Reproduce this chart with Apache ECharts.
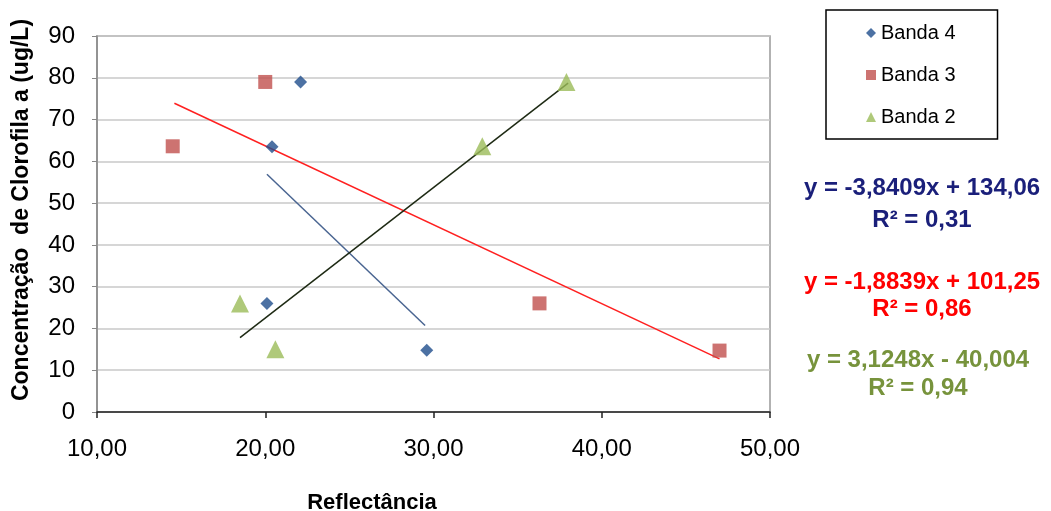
<!DOCTYPE html>
<html><head><meta charset="utf-8">
<script src="https://cdn.jsdelivr.net/npm/echarts@6/dist/echarts.min.js"></script>
<style>html,body{margin:0;padding:0;background:#fff}#c{width:1051px;height:511px}</style>
</head><body><div id="c"></div>
<script>
// Data
const banda4 = [[22.1, 79], [20.4, 63.5], [20.1, 26], [29.6, 14.8]];
const banda3 = [[20.0, 79], [14.5, 63.6], [36.3, 26], [47.0, 14.7]];
const banda2 = [[18.5, 26], [20.6, 15], [32.9, 63.6], [37.9, 79]];
const trend4 = [[20.1, 56.9], [29.5, 20.7]];
const trend3 = [[14.6, 73.9], [47.0, 12.7]];
const trend2 = [[18.5, 17.8], [38.0, 78.7]];
const xTicks = ['10,00', '20,00', '30,00', '40,00', '50,00'];
const equations = [
  ['y = -3,8409x + 134,06', 'R² = 0,31'],
  ['y = -1,8839x + 101,25', 'R² = 0,86'],
  ['y = 3,1248x - 40,004', 'R² = 0,94']
];
const names = ['Banda 4', 'Banda 3', 'Banda 2'];

const chart = echarts.init(document.getElementById('c'));
const FONT = 'Liberation Sans, Arial, sans-serif';
const eqColors = ['#1a1f7a', '#ff0000', '#77933c'];
const eqCenters = [[922, 188, 220], [922, 282, 309], [918, 360, 388]];
const graphics = [];
equations.forEach((eq, i) => {
  eq.forEach((t, j) => {
    graphics.push({type: 'text', x: eqCenters[i][0], y: eqCenters[i][j + 1],
      style: {text: t, fill: eqColors[i], font: 'bold 24px ' + FONT, textAlign: 'center', textVerticalAlign: 'middle'}});
  });
});
graphics.push({type: 'text', x: 22, y: 210, rotation: Math.PI / 2,
  style: {text: 'Concentração  de Clorofila a (ug/L)', fill: '#000', font: 'bold 23px ' + FONT, textAlign: 'center', textVerticalAlign: 'middle'}});
graphics.push({type: 'text', x: 372, y: 503,
  style: {text: 'Reflectância', fill: '#000', font: 'bold 22px ' + FONT, textAlign: 'center', textVerticalAlign: 'middle'}});

chart.setOption({
  animation: false,
  backgroundColor: '#fff',
  grid: {left: 97, right: 281, top: 36, bottom: 99, show: true, borderColor: '#999', borderWidth: 1.5, backgroundColor: '#fff'},
  legend: {
    orient: 'vertical', left: 826, top: 10,
    padding: [13, 42, 12, 40],
    borderColor: '#000', borderWidth: 1.5,
    itemWidth: 10, itemHeight: 10, itemGap: 22,
    textStyle: {fontFamily: FONT, fontSize: 20, color: '#000'},
    data: [
      {name: 'Banda 4', icon: 'diamond', itemStyle: {color: '#1f4e8c'}},
      {name: 'Banda 3', icon: 'rect', itemStyle: {color: '#c0504d'}},
      {name: 'Banda 2', icon: 'triangle', itemStyle: {color: '#9bbb59'}}
    ]
  },
  xAxis: {
    type: 'value', min: 10, max: 50, interval: 10,
    axisLine: {show: true, onZero: false, lineStyle: {color: '#222', width: 1.5}},
    axisTick: {show: true, length: 6, lineStyle: {color: '#222', width: 1.5}},
    splitLine: {show: false},
    axisLabel: {
      margin: 25, fontFamily: FONT, fontSize: 24, color: '#000',
      formatter: (v) => xTicks[Math.round((v - 10) / 10)]
    }
  },
  yAxis: {
    type: 'value', min: 0, max: 90, interval: 10,
    axisLine: {show: true, lineStyle: {color: '#888', width: 1.5}},
    axisTick: {show: true, length: 5, lineStyle: {color: '#888'}},
    splitLine: {show: true, lineStyle: {color: '#c8c8c8', width: 1.5}},
    axisLabel: {margin: 22, fontFamily: FONT, fontSize: 24, color: '#000'}
  },
  graphic: graphics,
  series: [
    {name: 'Banda 4', type: 'scatter', symbol: 'diamond', symbolSize: 13, data: banda4, itemStyle: {color: '#1f4e8c'}, z: 5},
    {name: 'Banda 3', type: 'scatter', symbol: 'rect', symbolSize: 14, data: banda3, itemStyle: {color: '#c0504d'}, z: 5},
    {name: 'Banda 2', type: 'scatter', symbol: 'triangle', symbolSize: 18, data: banda2, itemStyle: {color: '#9bbb59'}, z: 5},
    {name: 't4', type: 'line', data: trend4, symbol: 'none', lineStyle: {color: '#4a6591', width: 1.5}, z: 3},
    {name: 't3', type: 'line', data: trend3, symbol: 'none', lineStyle: {color: '#ff2020', width: 1.5}, z: 3},
    {name: 't2', type: 'line', data: trend2, symbol: 'none', lineStyle: {color: '#1e2a14', width: 1.5}, z: 3}
  ]
});
</script></body></html>
